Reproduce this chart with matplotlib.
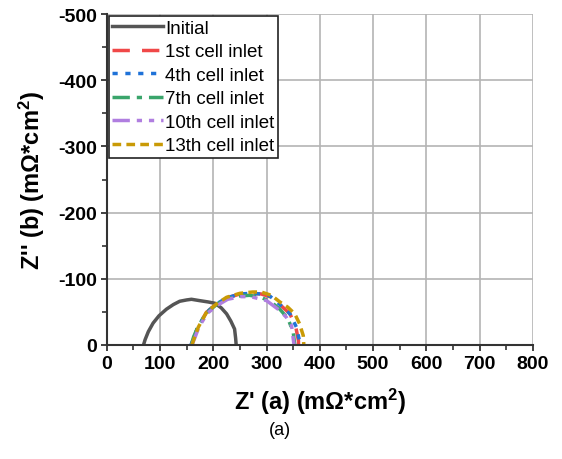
import numpy as np
import matplotlib
matplotlib.use("Agg")
import matplotlib.pyplot as plt

plt.rcParams['font.family'] = ['Liberation Sans', 'DejaVu Sans']
plt.rcParams['axes.unicode_minus'] = False
plt.rcParams['mathtext.fontset'] = 'custom'
plt.rcParams['mathtext.rm'] = 'Liberation Sans'
plt.rcParams['mathtext.bf'] = 'Liberation Sans:bold'
plt.rcParams['mathtext.default'] = 'bf'

# Nyquist data (Z' , Z'' in mOhm*cm^2)
init_x = [69, 72, 78, 87, 98, 112, 125, 137, 150, 159, 174, 190, 203, 215, 225, 233, 240, 242, 243]
init_y = [0, -8, -20, -33, -44, -54, -61, -66, -68, -69, -67, -65, -63, -56, -47, -36, -24, -10, 0]

c1_x = [159, 164, 171, 187, 206, 225, 250, 272, 290, 306, 325, 344, 355, 360, 360]
c1_y = [0, -12, -27, -49, -62, -71, -77, -78, -77, -73, -61, -47, -27, -6, 0]

c4_x = [158, 164, 171, 187, 206, 225, 250, 272, 290, 306, 325, 344, 356, 362, 362]
c4_y = [0, -12, -27, -49, -62, -71, -77, -78, -77, -74, -61, -47, -27, -6, 0]

c7_x = [159, 163, 171, 187, 206, 225, 250, 268, 290, 310, 325, 340, 350, 353]
c7_y = [0, -12, -27, -48, -61, -70, -74, -75, -72, -64, -54, -40, -20, 0]

c10_x = [160, 166, 173, 189, 208, 227, 252, 270, 300, 325, 337, 347, 351, 352]
c10_y = [0, -12, -27, -48, -60, -69, -73, -73, -67, -52, -42, -29, -4, 0]

c13_x = [160, 165, 172, 187, 206, 225, 250, 274, 290, 309, 325, 340, 353, 362, 369, 370]
c13_y = [0, -12, -27, -49, -62, -72, -78, -80, -80, -75, -65, -57, -47, -32, -14, 0]

fig = plt.figure(figsize=(5.62, 4.60), dpi=100)
ax = fig.add_axes([0.190, 0.248, 0.758, 0.719])

ax.plot(init_x, init_y, color='#555555', lw=2.5, label='Initial')
ax.plot(c1_x, c1_y, color='#f04848', lw=2.5, dashes=(5, 3.5), label='1st cell inlet')
ax.plot(c4_x, c4_y, color='#1f72d8', lw=2.5, dashes=(1.5, 2.2), label='4th cell inlet')
ax.plot(c7_x, c7_y, color='#3aa56b', lw=2.5, dashes=(5, 2, 1.5, 2), label='7th cell inlet')
ax.plot(c10_x, c10_y, color='#b07ee0', lw=2.5, dashes=(5, 2, 1.5, 2, 1.5, 2), label='10th cell inlet')
ax.plot(c13_x, c13_y, color='#c99a06', lw=2.5, dashes=(2.5, 1.5), label='13th cell inlet')

ax.set_xlim(0, 800)
ax.set_ylim(0, -500)
ax.set_xticks(np.arange(0, 801, 100))
ax.set_yticks(np.arange(0, -501, -100))
ax.set_xticks(np.arange(50, 800, 100), minor=True)
ax.set_yticks(np.arange(-50, -500, -100), minor=True)
ax.grid(True, which='major', color='#b4b4b4', lw=1.2)
ax.set_axisbelow(True)

for s in ['top', 'right']:
    ax.spines[s].set_visible(False)
for s in ['left', 'bottom']:
    ax.spines[s].set_color('#333333')
    ax.spines[s].set_linewidth(1.5)

ax.tick_params(which='major', direction='out', length=4, width=1.3, color='#333333',
               labelsize=14, pad=3)
ax.tick_params(which='minor', direction='out', length=3.5, width=1.2, color='#333333')
for lab in ax.get_xticklabels() + ax.get_yticklabels():
    lab.set_fontweight('bold')

ax.set_xlabel("Z' (a) (m\u03a9*cm$^{2}$)", fontsize=17, fontweight='bold', labelpad=10)
ax.set_ylabel("Z'' (b) (m\u03a9*cm$^{2}$)", fontsize=17, fontweight='bold', labelpad=8)

leg = ax.legend(loc='upper left', bbox_to_anchor=(0.0, 1.0), borderaxespad=0.1,
                fontsize=13.5, handlelength=2.7, handletextpad=0.1,
                labelspacing=0.34, borderpad=0.2, fancybox=False, framealpha=1)
leg.get_frame().set_edgecolor('#222222')
leg.get_frame().set_linewidth(1.2)

fig.text(0.498, 0.065, '(a)', ha='center', va='center', fontsize=13)

fig.savefig('out.png', dpi=100)
